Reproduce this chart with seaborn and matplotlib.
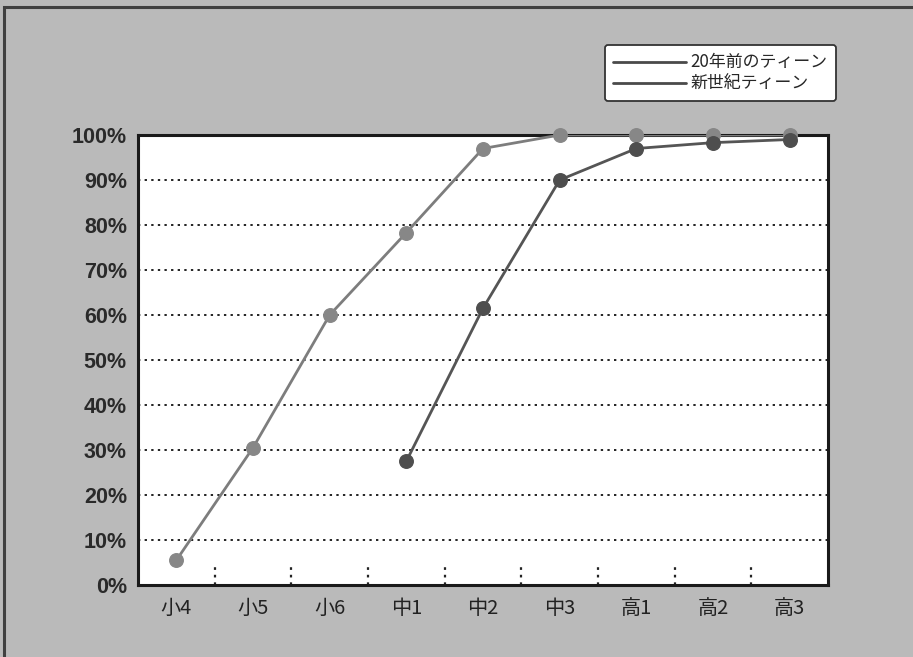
import matplotlib
matplotlib.use("Agg")
import matplotlib.pyplot as plt
from matplotlib.patches import Rectangle
from matplotlib.lines import Line2D
import seaborn as sns
import pandas as pd
import numpy as np

grades = ["小4", "小5", "小6", "中1", "中2", "中3", "高1", "高2", "高3"]
series_names = ["20年前のティーン", "新世紀ティーン"]
teens_20y_ago = [None, None, None, 27.5, 61.5, 90.0, 97.0, 98.3, 99.0]
teens_new_century = [5.5, 30.5, 60.0, 78.3, 97.0, 100.0, 100.0, 100.0, 100.0]
y_ticks = [0, 10, 20, 30, 40, 50, 60, 70, 80, 90, 100]
y_tick_labels = [f"{v}%" for v in y_ticks]

sns.set_theme(style="white")
plt.rcParams["font.family"] = ["Noto Sans CJK JP", "DejaVu Sans"]

rows = []
for name, vals in zip(series_names, [teens_20y_ago, teens_new_century]):
    for i, (g, v) in enumerate(zip(grades, vals)):
        if v is not None:
            rows.append({"pos": i, "grade": g, "value": v, "series": name})
df = pd.DataFrame(rows)

bg = "#bababa"
fig = plt.figure(figsize=(9.13, 6.57), dpi=100, facecolor=bg)
ax = fig.add_axes([138 / 913, 1 - 585 / 657, 690 / 913, 450 / 657])
ax.set_facecolor("white")

# outer frame of the figure
fig.patches.append(Rectangle((4 / 913, -0.05), 1.2, 1 - 7 / 657 + 0.05,
                             transform=fig.transFigure, fill=False,
                             edgecolor="#404040", linewidth=2.2, zorder=0))

# dotted horizontal guides
for v in y_ticks[1:-1]:
    ax.axhline(v, color="#222222", linestyle=(0, (1.2, 2.2)), linewidth=1.4, zorder=1)

# short dotted separators between categories at the bottom
for b in np.arange(0.5, len(grades) - 1, 1.0):
    ax.plot([b, b], [0, 4.8], color="#222222", linestyle=(0, (1.2, 2.2)),
            linewidth=1.6, zorder=1)

palette = {series_names[0]: "#555555", series_names[1]: "#7d7d7d"}
marker_colors = {series_names[0]: "#4e4e4e", series_names[1]: "#878787"}

sns.lineplot(data=df, x="pos", y="value", hue="series", palette=palette,
             linewidth=2.0, ax=ax, legend=False, zorder=3, sort=True)
for name in series_names[::-1]:
    sub = df[df["series"] == name]
    ax.scatter(sub["pos"], sub["value"], s=95, color=marker_colors[name],
               edgecolor=marker_colors[name], zorder=4 if name == series_names[1] else 5,
               clip_on=False)

ax.set_xlim(-0.5, len(grades) - 0.5)
ax.set_ylim(0, 100)
ax.set_xticks(range(len(grades)))
ax.set_xticklabels(grades, fontsize=14.5, color="#222222")
ax.set_yticks(y_ticks)
ax.set_yticklabels(y_tick_labels, fontsize=15.5, fontweight="bold", color="#2a2a2a",
                   family=["Liberation Sans", "DejaVu Sans"])
ax.tick_params(axis="x", length=0, pad=9)
ax.tick_params(axis="y", length=0, pad=8)
ax.set_xlabel("")
ax.set_ylabel("")
for s in ax.spines.values():
    s.set_visible(True)
    s.set_color("#1a1a1a")
    s.set_linewidth(2.2)

# legend box
handles = [Line2D([0], [0], color="#4a4a4a", linewidth=2.0) for n in series_names]
leg = fig.legend(handles, series_names, loc="upper left",
                 bbox_to_anchor=(605 / 913, 1 - 45 / 657), frameon=True,
                 fontsize=12.2, handlelength=4.3, handletextpad=0.25,
                 borderpad=0.5, labelspacing=0.2, fancybox=True,
                 borderaxespad=0)
leg.get_frame().set_edgecolor("#333333")
leg.get_frame().set_linewidth(1.3)
leg.get_frame().set_facecolor("white")
leg.get_frame().set_alpha(1)

fig.savefig("out.png", dpi=100, facecolor=bg)
